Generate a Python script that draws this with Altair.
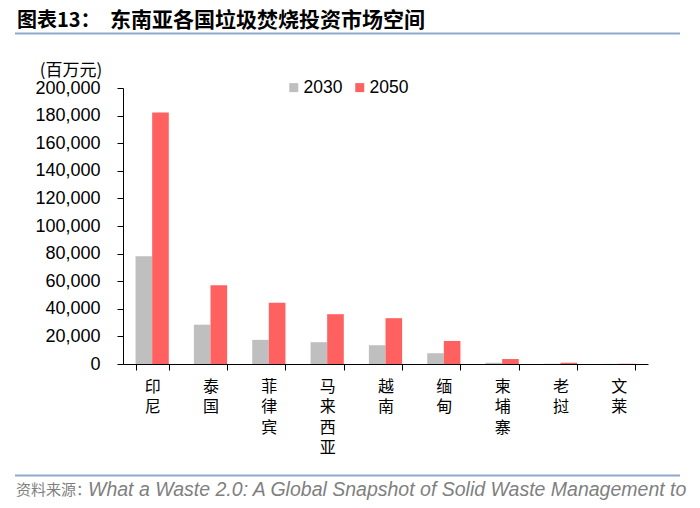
import altair as alt
import pandas as pd

countries = ["印尼", "泰国", "菲律宾", "马来西亚", "越南", "缅甸", "柬埔寨", "老挝", "文莱"]
v2030 = [78000, 28500, 17500, 15800, 13600, 7800, 900, 200, 100]
v2050 = [182300, 57000, 44400, 36100, 33200, 16700, 3600, 900, 200]
years = ["2030", "2050"]
y_ticks = [0, 20000, 40000, 60000, 80000, 100000, 120000, 140000, 160000, 180000, 200000]

title_a = "图表13："
title_b = "东南亚各国垃圾焚烧投资市场空间"
unit_label = "(百万元)"
source_a = "资料来源："
source_b = "What a Waste 2.0: A Global Snapshot of Solid Waste Management to"

rows = []
for c, a, b in zip(countries, v2030, v2050):
    rows.append({"country": c, "year": years[0], "value": a})
    rows.append({"country": c, "year": years[1], "value": b})
df = pd.DataFrame(rows)

CJK = "Noto Sans CJK SC"
LAT = "Liberation Sans"

bars = alt.Chart(df).mark_bar().encode(
    x=alt.X(
        "country:N",
        sort=countries,
        scale=alt.Scale(paddingInner=0.43, paddingOuter=0.215),
        axis=alt.Axis(
            title=None, labelAngle=0, tickBand="extent",
            labelExpr="split(datum.label, '')", labelLineHeight=20.5,
            labelFont=CJK, labelFontSize=16, labelColor="black",
            labelPadding=8, tickSize=6, tickColor="black", domainColor="black",
            labelBaseline="top",
        ),
    ),
    xOffset=alt.XOffset("year:N", sort=years, scale=alt.Scale(paddingInner=0, paddingOuter=0)),
    y=alt.Y(
        "value:Q",
        scale=alt.Scale(domain=[0, 200000], nice=False),
        axis=alt.Axis(
            title=None, values=y_ticks, format=",d", grid=False,
            labelFont=LAT, labelFontSize=18, labelColor="black",
            labelPadding=17, tickSize=6, tickColor="black", domainColor="black",
        ),
    ),
    color=alt.Color(
        "year:N",
        scale=alt.Scale(domain=years, range=["#BFBFBF", "#FF6161"]),
        legend=alt.Legend(
            title=None, orient="none", legendX=162, legendY=-9.5, direction="horizontal",
            symbolType="square", symbolSize=81, symbolStrokeWidth=0,
            labelFont=LAT, labelFontSize=17.5, labelColor="black",
            labelOffset=1, columnPadding=8, padding=0,
        ),
    ),
)

one = pd.DataFrame({"k": [0]})


def txt(s, x, y, font, size, color="black", weight="normal", style="normal", align="left"):
    return alt.Chart(pd.DataFrame({"t": [s]})).mark_text(
        font=font, fontSize=size, color=color, fontWeight=weight, fontStyle=style,
        align=align, baseline="middle",
    ).encode(text="t:N", x=alt.value(x), y=alt.value(y))


def rule(x1, x2, y, color, w):
    return alt.Chart(one).mark_rule(color=color, strokeWidth=w).encode(
        x=alt.value(x1), x2=alt.value(x2), y=alt.value(y)
    )


decor = [
    txt(title_a, -106, -67, CJK, 20, weight="bold"),
    txt(title_b, -13, -67, CJK, 21, weight="bold"),
    rule(-108, 557, -54.5, "#8EAACB", 2),
    txt(unit_label, -52, -17, CJK, 17, align="center"),
    rule(-108, 557, 387.5, "#8EAACB", 2),
    txt(source_a, -107, 402, CJK, 15, color="#7F7F7F"),
    txt(source_b, -35, 402, LAT, 19.5, color="#7F7F7F", style="italic"),
]

chart = alt.layer(bars, *decor).properties(
    width=525, height=276,
    autosize=alt.AutoSizeParams(type="none"),
    padding={"left": 115, "top": 80, "right": 44, "bottom": 136},
).configure_view(stroke=None)

chart.save("out.html", embed_options={"renderer": "svg", "actions": False})
